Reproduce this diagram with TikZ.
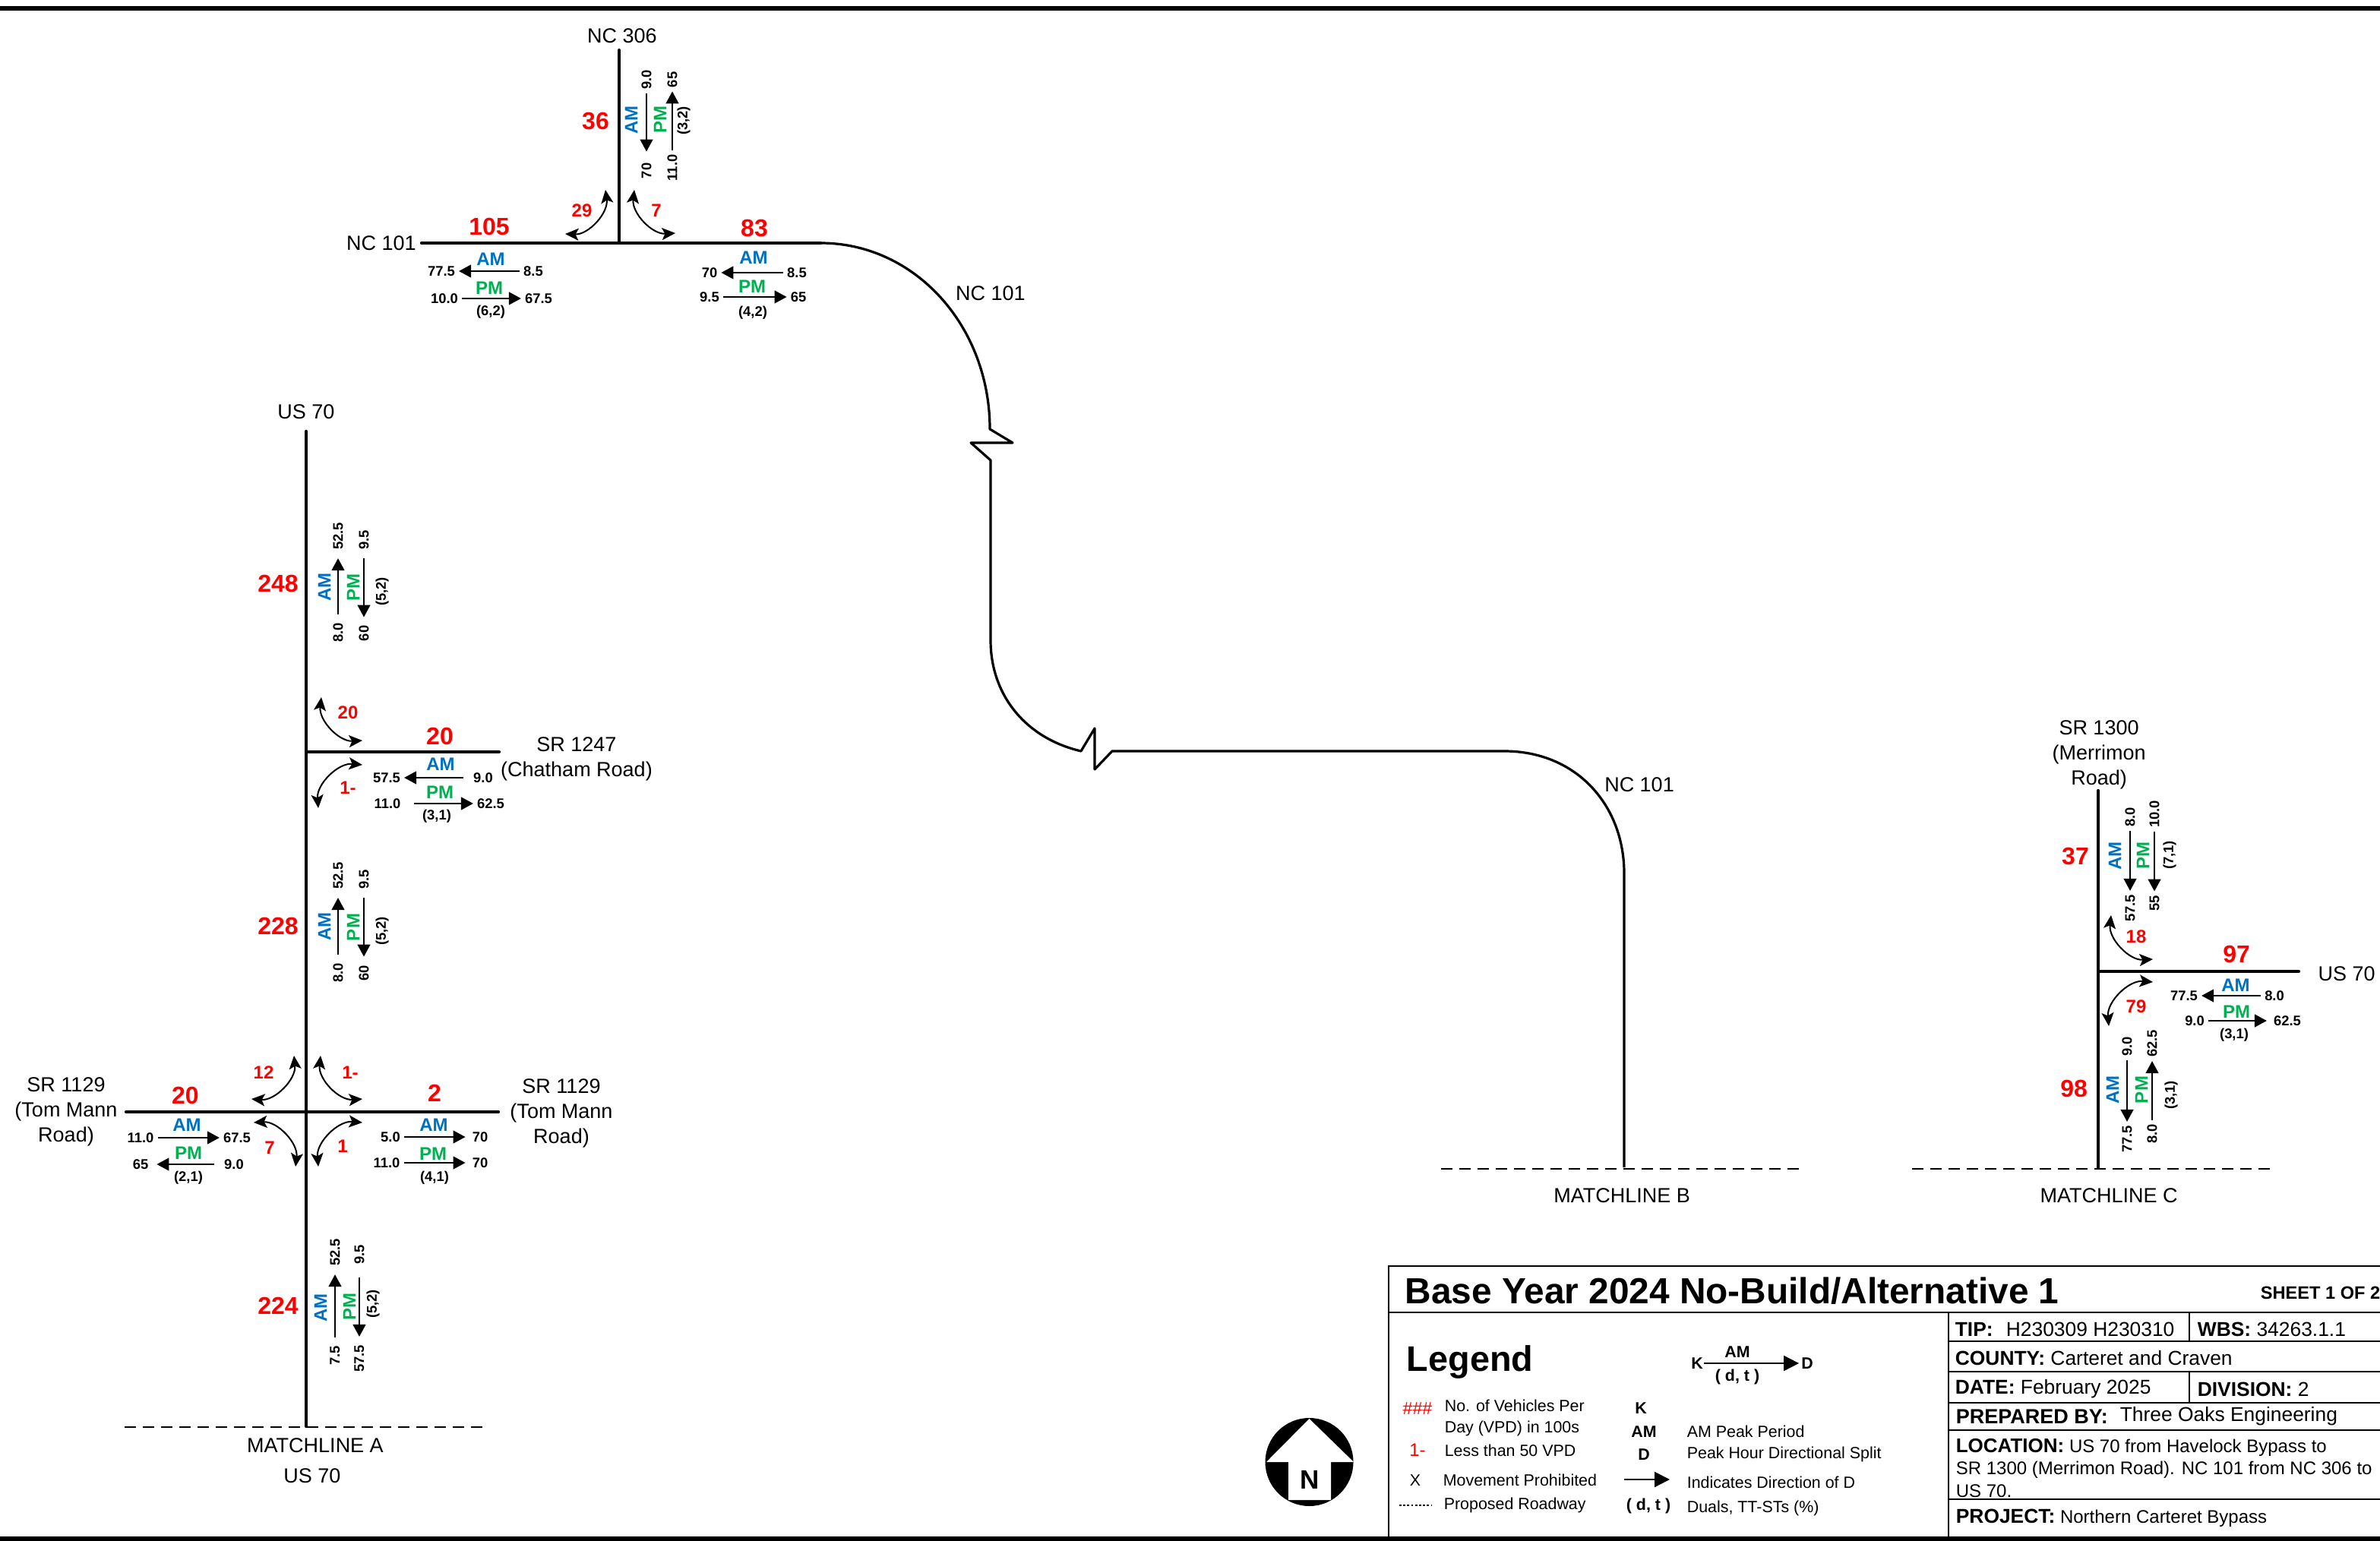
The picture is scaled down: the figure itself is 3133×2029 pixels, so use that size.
\documentclass[tikz,border=0pt]{standalone}
\usepackage{fontspec}
\setmainfont{Liberation Sans}
\usetikzlibrary{arrows.meta,positioning}

\definecolor{amblue}{HTML}{0070C0}
\definecolor{pmgreen}{HTML}{00B050}

\begin{document}
\begin{tikzpicture}[
    x=0.25pt, y=-0.25pt,
    road/.style={line width=1.05pt, line cap=round},
    curved/.style={line width=0.8pt, line join=round},
    rule/.style={line width=1.6pt},
    cell/.style={line width=0.5pt},
    match/.style={line width=0.45pt, dash pattern=on 3.8pt off 2.2pt},
    flow/.style={-{Triangle[length=4pt,width=4.2pt]}, line width=0.5pt},
    flowv/.style={flow, shorten <=1.5pt, shorten >=1.5pt},
    turn/.style={{Stealth[length=4.4pt,width=4pt,inset=1pt]}-{Stealth[length=4.4pt,width=4pt,inset=1pt]}, line width=0.5pt},
    vert/.style={rotate=90},
    roadname/.style={inner sep=0pt, align=center, font=\fontsize{6.75}{8.2}\selectfont},
    vol/.style={inner sep=0pt, text=red, font=\fontsize{8}{9}\selectfont\bfseries},
    turnvol/.style={inner sep=0pt, text=red, font=\fontsize{6}{7}\selectfont\bfseries},
    am/.style={inner sep=0pt, text=amblue, font=\fontsize{6}{7}\selectfont\bfseries},
    pm/.style={inner sep=0pt, text=pmgreen, font=\fontsize{6}{7}\selectfont\bfseries},
    num/.style={inner sep=1.1pt, font=\fontsize{4.6}{5.5}\selectfont\bfseries},
    legtext/.style={inner sep=0pt, anchor=west, font=\fontsize{5.35}{6.5}\selectfont},
    legkey/.style={inner sep=0pt, font=\fontsize{5.35}{6.5}\selectfont\bfseries},
    celltext/.style={inner sep=0pt, anchor=west, align=left, font=\fontsize{6.6}{7.4}\selectfont},
    smallcell/.style={celltext, font=\fontsize{6}{7.3}\selectfont},
  ]
    \path[use as bounding box, clip] (0,0) rectangle (3133,2029);

    \coordinate (topa) at (0,11);
    \coordinate (topb) at (3133,11);
    \coordinate (bota) at (0,2026);
    \coordinate (botb) at (3133,2026);
    \draw[rule] (topa) -- (topb);
    \draw[rule] (bota) -- (botb);

    \coordinate (jct306) at (815,320);
    \coordinate (nc306end) at (815,66);
    \coordinate (nc101end) at (555,320);
    \coordinate (nc101a) at (1080,320);
    \coordinate (nc101b) at (1303,565);
    \coordinate (nc101c) at (1333,583);
    \coordinate (nc101d) at (1278,583);
    \coordinate (nc101e) at (1304,606);
    \coordinate (nc101f) at (1304,843);
    \coordinate (nc101g) at (1423,989);
    \coordinate (nc101h) at (1441,959);
    \coordinate (nc101i) at (1441,1013);
    \coordinate (nc101j) at (1464,989);
    \coordinate (nc101k) at (1980,989);
    \coordinate (nc101l) at (2138,1150);
    \coordinate (nc101m) at (2138,1537);
    \draw[road] (jct306) -- (nc306end);
    \draw[road] (nc101end) -- (nc101a);
    \draw[curved] (nc101a) .. controls (1205,320) and (1303,430) .. (nc101b) -- (nc101c) -- (nc101d) -- (nc101e) -- (nc101f)
      .. controls (1304,915) and (1350,972) .. (nc101g) -- (nc101h) -- (nc101i) -- (nc101j) -- (nc101k)
      .. controls (2075,989) and (2138,1060) .. (nc101l) -- (nc101m);

    \coordinate (us70top) at (403,568);
    \coordinate (us70bot) at (403,1878);
    \coordinate (jct1247) at (403,990);
    \coordinate (sr1247end) at (657,990);
    \coordinate (sr1129w) at (166,1464);
    \coordinate (sr1129e) at (656,1464);
    \draw[road] (us70top) -- (us70bot);
    \draw[road] (jct1247) -- (sr1247end);
    \draw[road] (sr1129w) -- (sr1129e);

    \coordinate (sr1300top) at (2762,1041);
    \coordinate (sr1300bot) at (2762,1538);
    \coordinate (jct1300) at (2762,1279);
    \coordinate (us70eend) at (3026,1279);
    \draw[road] (sr1300top) -- (sr1300bot);
    \draw[road] (jct1300) -- (us70eend);

    \coordinate (matchaa) at (164,1879);
    \coordinate (matchab) at (637,1879);
    \coordinate (matchba) at (1897,1539);
    \coordinate (matchbb) at (2370,1539);
    \coordinate (matchca) at (2517,1539);
    \coordinate (matchcb) at (2990,1539);
    \draw[match] (matchaa) -- (matchab);
    \draw[match] (matchba) -- (matchbb);
    \draw[match] (matchca) -- (matchcb);

    \node[roadname] (lblnc306) at (819,47) {NC 306};
    \node[roadname] (lblnc101w) at (502,320) {NC 101};
    \node[roadname] (lblnc101n) at (1304,386) {NC 101};
    \node[roadname] (lblnc101s) at (2158,1033) {NC 101};
    \node[roadname] (lblus70n) at (403,542) {US 70};
    \node[roadname] (lblsr1247) at (759,999) {SR 1247\\(Chatham Road)};
    \node[roadname] (lblsr1129w) at (87,1464) {SR 1129\\(Tom Mann\\Road)};
    \node[roadname] (lblsr1129e) at (739,1466) {SR 1129\\(Tom Mann\\Road)};
    \node[roadname] (lblsr1300) at (2763,994) {SR 1300\\(Merrimon\\Road)};
    \node[roadname] (lblus70e) at (3089,1282) {US 70};
    \node[roadname] (lblmatcha) at (415,1903) {MATCHLINE A};
    \node[roadname] (lblus70s) at (411,1943) {US 70};
    \node[roadname] (lblmatchb) at (2135,1574) {MATCHLINE B};
    \node[roadname] (lblmatchc) at (2776,1574) {MATCHLINE C};

    \node[vol] (volnc306) at (784,160) {36};
    \node[vol] (volnc101w) at (644,299) {105};
    \node[vol] (volnc101e) at (993,301) {83};
    \node[vol] (volus70n) at (366,768) {248};
    \node[vol] (volsr1247) at (579,969) {20};
    \node[vol] (volus70m) at (366,1219) {228};
    \node[vol] (volsr1129w) at (244,1442) {20};
    \node[vol] (volsr1129e) at (572,1439) {2};
    \node[vol] (volus70s) at (366,1719) {224};
    \node[vol] (volsr1300) at (2732,1128) {37};
    \node[vol] (volus70e) at (2944,1256) {97};
    \node[vol] (volus70c) at (2730,1433) {98};

    \coordinate (tnwa) at (797,250);
    \coordinate (tnwb) at (744,308);
    \coordinate (tnea) at (889,307);
    \coordinate (tneb) at (835,250);
    \draw[turn] (tnwa) to[bend left=50] (tnwb);
    \draw[turn] (tnea) to[bend left=50] (tneb);
    \node[turnvol] (tvnw) at (766,277) {29};
    \node[turnvol] (tvne) at (864,277) {7};

    \coordinate (t1247a) at (477,975);
    \coordinate (t1247b) at (423,918);
    \coordinate (t1247c) at (419,1064);
    \coordinate (t1247d) at (477,1007);
    \draw[turn] (t1247a) to[bend left=50] (t1247b);
    \draw[turn] (t1247c) to[bend left=50] (t1247d);
    \node[turnvol] (tv1247a) at (458,938) {20};
    \node[turnvol] (tv1247b) at (458,1037) {1-};

    \coordinate (t1129a) at (387,1390);
    \coordinate (t1129b) at (331,1447);
    \coordinate (t1129c) at (477,1447);
    \coordinate (t1129d) at (422,1390);
    \coordinate (t1129e) at (334,1478);
    \coordinate (t1129f) at (389,1536);
    \coordinate (t1129g) at (419,1536);
    \coordinate (t1129h) at (477,1478);
    \draw[turn] (t1129a) to[bend left=50] (t1129b);
    \draw[turn] (t1129c) to[bend left=50] (t1129d);
    \draw[turn] (t1129e) to[bend left=50] (t1129f);
    \draw[turn] (t1129g) to[bend left=50] (t1129h);
    \node[turnvol] (tv1129a) at (347,1412) {12};
    \node[turnvol] (tv1129b) at (461,1412) {1-};
    \node[turnvol] (tv1129c) at (355,1511) {7};
    \node[turnvol] (tv1129d) at (451,1509) {1};

    \coordinate (t1300a) at (2834,1263);
    \coordinate (t1300b) at (2779,1205);
    \coordinate (t1300c) at (2776,1351);
    \coordinate (t1300d) at (2834,1293);
    \draw[turn] (t1300a) to[bend left=50] (t1300b);
    \draw[turn] (t1300c) to[bend left=50] (t1300d);
    \node[turnvol] (tv1300a) at (2812,1233) {18};
    \node[turnvol] (tv1300b) at (2812,1325) {79};

    \node[am, vert] (nc306am) at (831,158) {AM};
    \node[pm, vert] (nc306pm) at (869,158) {PM};
    \node[num, vert] (nc306a) at (851,105) {9.0};
    \node[num, vert] (nc306b) at (851,225) {70};
    \node[num, vert] (nc306c) at (885,221) {11.0};
    \node[num, vert] (nc306d) at (885,105) {65};
    \node[num, vert] (nc306dt) at (900,159) {(3,2)};
    \draw[flow, shorten >=2.5pt] (nc306a) -- (nc306b);
    \draw[flow] (nc306c) -- (nc306d);

    \node[am] (nc101wam) at (646,341) {AM};
    \node[pm] (nc101wpm) at (644,379) {PM};
    \node[num] (nc101wa) at (702,357) {8.5};
    \node[num] (nc101wb) at (581,357) {77.5};
    \node[num] (nc101wc) at (585,393) {10.0};
    \node[num] (nc101wd) at (709,393) {67.5};
    \node[num] (nc101wdt) at (646,411) {(6,2)};
    \draw[flow] (nc101wa) -- (nc101wb);
    \draw[flow] (nc101wc) -- (nc101wd);

    \node[am] (nc101eam) at (992,339) {AM};
    \node[pm] (nc101epm) at (990,377) {PM};
    \node[num] (nc101ea) at (1049,359) {8.5};
    \node[num] (nc101eb) at (934,359) {70};
    \node[num] (nc101ec) at (934,391) {9.5};
    \node[num] (nc101ed) at (1051,391) {65};
    \node[num] (nc101edt) at (991,412) {(4,2)};
    \draw[flow] (nc101ea) -- (nc101eb);
    \draw[flow] (nc101ec) -- (nc101ed);

    \node[am, vert] (us70nam) at (427,773) {AM};
    \node[pm, vert] (us70npm) at (465,774) {PM};
    \node[num, vert] (us70na) at (445,833) {8.0};
    \node[num, vert] (us70nb) at (445,706) {52.5};
    \node[num, vert] (us70nc) at (479,711) {9.5};
    \node[num, vert] (us70nd) at (479,834) {60};
    \node[num, vert] (us70ndt) at (503,779) {(5,2)};
    \draw[flowv] (us70na) -- (us70nb);
    \draw[flowv] (us70nc) -- (us70nd);

    \node[am] (sr1247am) at (580,1006) {AM};
    \node[pm] (sr1247pm) at (579,1043) {PM};
    \node[num] (sr1247a) at (636,1024) {9.0};
    \node[num] (sr1247b) at (509,1024) {57.5};
    \node[num] (sr1247c) at (510,1058) {11.0};
    \node[num] (sr1247d) at (646,1058) {62.5};
    \node[num] (sr1247dt) at (575,1075) {(3,1)};
    \draw[flow, shorten <=2pt] (sr1247a) -- (sr1247b);
    \draw[flow, shorten <=3pt] (sr1247c) -- (sr1247d);

    \node[am, vert] (us70mam) at (427,1220) {AM};
    \node[pm, vert] (us70mpm) at (465,1221) {PM};
    \node[num, vert] (us70ma) at (445,1281) {8.0};
    \node[num, vert] (us70mb) at (445,1153) {52.5};
    \node[num, vert] (us70mc) at (479,1158) {9.5};
    \node[num, vert] (us70md) at (479,1281) {60};
    \node[num, vert] (us70mdt) at (503,1226) {(5,2)};
    \draw[flowv] (us70ma) -- (us70mb);
    \draw[flowv] (us70mc) -- (us70md);

    \node[am] (sr1129wam) at (246,1481) {AM};
    \node[pm] (sr1129wpm) at (248,1518) {PM};
    \node[num] (sr1129wa) at (185,1498) {11.0};
    \node[num] (sr1129wb) at (312,1498) {67.5};
    \node[num] (sr1129wc) at (308,1533) {9.0};
    \node[num] (sr1129wd) at (185,1533) {65};
    \node[num] (sr1129wdt) at (248,1551) {(2,1)};
    \draw[flow] (sr1129wa) -- (sr1129wb);
    \draw[flow, shorten <=2pt, shorten >=1.5pt] (sr1129wc) -- (sr1129wd);

    \node[am] (sr1129eam) at (571,1481) {AM};
    \node[pm] (sr1129epm) at (570,1519) {PM};
    \node[num] (sr1129ea) at (514,1497) {5.0};
    \node[num] (sr1129eb) at (632,1497) {70};
    \node[num] (sr1129ec) at (509,1531) {11.0};
    \node[num] (sr1129ed) at (632,1531) {70};
    \node[num] (sr1129edt) at (572,1551) {(4,1)};
    \draw[flow, shorten >=1pt] (sr1129ea) -- (sr1129eb);
    \draw[flow, shorten >=1pt] (sr1129ec) -- (sr1129ed);

    \node[am, vert] (us70sam) at (422,1722) {AM};
    \node[pm, vert] (us70spm) at (460,1720) {PM};
    \node[num, vert] (us70sa) at (441,1785) {7.5};
    \node[num, vert] (us70sb) at (441,1649) {52.5};
    \node[num, vert] (us70sc) at (473,1652) {9.5};
    \node[num, vert] (us70sd) at (473,1789) {57.5};
    \node[num, vert] (us70sdt) at (491,1717) {(5,2)};
    \draw[flowv] (us70sa) -- (us70sb);
    \draw[flowv, shorten <=3pt] (us70sc) -- (us70sd);

    \node[am, vert] (sr1300am) at (2784,1127) {AM};
    \node[pm, vert] (sr1300pm) at (2821,1127) {PM};
    \node[num, vert] (sr1300a) at (2804,1076) {8.0};
    \node[num, vert] (sr1300b) at (2804,1196) {57.5};
    \node[num, vert] (sr1300c) at (2836,1072) {10.0};
    \node[num, vert] (sr1300d) at (2836,1189) {55};
    \node[num, vert] (sr1300dt) at (2856,1126) {(7,1)};
    \draw[flow] (sr1300a) -- (sr1300b);
    \draw[flow] (sr1300c) -- (sr1300d);

    \node[am] (us70eam) at (2943,1297) {AM};
    \node[pm] (us70epm) at (2944,1332) {PM};
    \node[num] (us70ea) at (2994,1311) {8.0};
    \node[num] (us70eb) at (2875,1311) {77.5};
    \node[num] (us70ec) at (2889,1344) {9.0};
    \node[num] (us70ed) at (3011,1344) {62.5};
    \node[num] (us70edt) at (2941,1363) {(3,1)};
    \draw[flow] (us70ea) -- (us70eb);
    \draw[flow, shorten >=1pt] (us70ec) -- (us70ed);

    \node[am, vert] (us70cam) at (2781,1435) {AM};
    \node[pm, vert] (us70cpm) at (2819,1435) {PM};
    \node[num, vert] (us70ca) at (2800,1378) {9.0};
    \node[num, vert] (us70cb) at (2800,1500) {77.5};
    \node[num, vert] (us70cc) at (2833,1493) {8.0};
    \node[num, vert] (us70cd) at (2833,1374) {62.5};
    \node[num, vert] (us70cdt) at (2858,1442) {(3,1)};
    \draw[flow] (us70ca) -- (us70cb);
    \draw[flow] (us70cc) -- (us70cd);

    \node[circle, fill=black, minimum size=29pt, inner sep=0pt] (northdisc) at (1723.5,1925) {};
    \fill[white] (1723.5,1868) -- (1782,1925) -- (1752,1925) -- (1752,1975) -- (1696,1975) -- (1696,1925) -- (1667,1925) -- cycle;
    \node[inner sep=0pt, font=\fontsize{8.75}{10}\selectfont\bfseries] (northn) at (1724,1948) {N};

    \coordinate (frametl) at (1828,1667);
    \coordinate (frametr) at (3133,1667);
    \coordinate (framebl) at (1828,2026);
    \coordinate (divl) at (1828,1728);
    \coordinate (divr) at (3133,1728);
    \coordinate (cella) at (2565,1728);
    \coordinate (cellb) at (2565,2026);
    \draw[cell] (framebl) -- (frametl) -- (frametr);
    \draw[cell] (divl) -- (divr);
    \draw[cell] (cella) -- (cellb);
    \coordinate (rowal) at (2565,1766);
    \coordinate (rowar) at (3133,1766);
    \coordinate (rowbl) at (2565,1806);
    \coordinate (rowbr) at (3133,1806);
    \coordinate (rowcl) at (2565,1847);
    \coordinate (rowcr) at (3133,1847);
    \coordinate (rowdl) at (2565,1883);
    \coordinate (rowdr) at (3133,1883);
    \coordinate (rowel) at (2565,1974);
    \coordinate (rower) at (3133,1974);
    \draw[cell] (rowal) -- (rowar);
    \draw[cell] (rowbl) -- (rowbr);
    \draw[cell] (rowcl) -- (rowcr);
    \draw[cell, line width=0.7pt] (rowdl) -- (rowdr);
    \draw[cell, line width=0.7pt] (rowel) -- (rower);
    \coordinate (sepa) at (2882,1728);
    \coordinate (sepb) at (2882,1766);
    \coordinate (sepc) at (2882,1806);
    \coordinate (sepd) at (2882,1847);
    \draw[cell] (sepa) -- (sepb);
    \draw[cell] (sepc) -- (sepd);

    \node[inner sep=0pt, anchor=west, font=\fontsize{11.95}{14}\selectfont\bfseries] (title) at (1849,1700) {Base Year 2024 No-Build/Alternative 1};
    \node[inner sep=0pt, anchor=west, font=\fontsize{5.9}{7}\selectfont\bfseries] (sheet) at (2975,1702) {SHEET 1 OF 2};
    \node[celltext] (tiplbl) at (2573,1750) {\textbf{TIP:}};
    \node[celltext] (tipval) at (2640,1750) {H230309 H230310};
    \node[celltext] (wbs) at (2892,1750) {\textbf{WBS:} 34263.1.1};
    \node[celltext] (county) at (2573,1788) {\textbf{COUNTY:} Carteret and Craven};
    \node[celltext] (date) at (2573,1829) {\textbf{DATE:} February 2025};
    \node[celltext] (division) at (2892,1829) {\textbf{DIVISION:} 2};
    \node[celltext, font=\fontsize{6.75}{8}\selectfont] (preplbl) at (2574,1865) {\textbf{PREPARED BY:}};
    \node[celltext] (prepval) at (2790,1865) {Three Oaks Engineering};
    \node[smallcell] (location) at (2574,1933) {{\fontsize{6.5}{7.3}\selectfont\textbf{LOCATION:}} US 70 from Havelock Bypass to\\SR 1300 (Merrimon Road). NC 101 from NC 306 to\\US 70.};
    \node[smallcell] (project) at (2574,1999) {{\fontsize{6.6}{7.3}\selectfont\textbf{PROJECT:}} Northern Carteret Bypass};

    \node[inner sep=0pt, anchor=west, font=\fontsize{11.7}{13}\selectfont\bfseries] (legend) at (1851,1793) {Legend};
    \node[legkey] (samplek) at (2234,1795) {K};
    \node[legkey] (sampled) at (2379,1795) {D};
    \node[legkey] (sampleam) at (2287,1780) {AM};
    \node[legkey] (sampledt) at (2287,1813) {( d, t )};
    \draw[flow, -{Triangle[length=5pt,width=5pt]}, shorten <=0.2pt, shorten >=0.6pt] (samplek) -- (sampled);

    \node[legkey, text=red, font=\fontsize{5.8}{7}\selectfont] (keyvol) at (1866,1855) {\#\#\#};
    \node[legtext, align=left, font=\fontsize{5.35}{6.8}\selectfont] (txtvol) at (1901,1867) {No. of Vehicles Per\\Day (VPD) in 100s};
    \node[legkey, text=red, font=\fontsize{6}{7}\selectfont] (keyless) at (1866,1909) {1-};
    \node[legtext] (txtless) at (1901,1910) {Less than 50 VPD};
    \node[legkey, font=\fontsize{5.35}{6.5}\selectfont] (keyx) at (1863,1949) {X};
    \node[legtext] (txtx) at (1899,1949) {Movement Prohibited};
    \coordinate (keydota) at (1842,1982);
    \coordinate (keydotb) at (1885,1982);
    \draw[line width=0.5pt, dash pattern=on 0.7pt off 0.6pt] (keydota) -- (keydotb);
    \node[legtext] (txtprop) at (1900,1982) {Proposed Roadway};

    \node[legkey] (keyk) at (2160,1854) {K};
    \node[legkey] (keyam) at (2164,1885) {AM};
    \node[legtext] (txtam) at (2220,1885) {AM Peak Period};
    \node[legkey] (keyd) at (2164,1915) {D};
    \node[legtext] (txtd) at (2220,1915) {Peak Hour Directional Split};
    \coordinate (keyarra) at (2138,1948);
    \coordinate (keyarrb) at (2198,1948);
    \draw[flow, -{Triangle[length=5pt,width=5pt]}] (keyarra) -- (keyarrb);
    \node[legtext] (txtarr) at (2220,1952) {Indicates Direction of D};
    \node[legkey] (keydt) at (2170,1983) {( d, t )};
    \node[legtext] (txtdt) at (2220,1986) {Duals, TT-STs (\%)};
\end{tikzpicture}
\end{document}
